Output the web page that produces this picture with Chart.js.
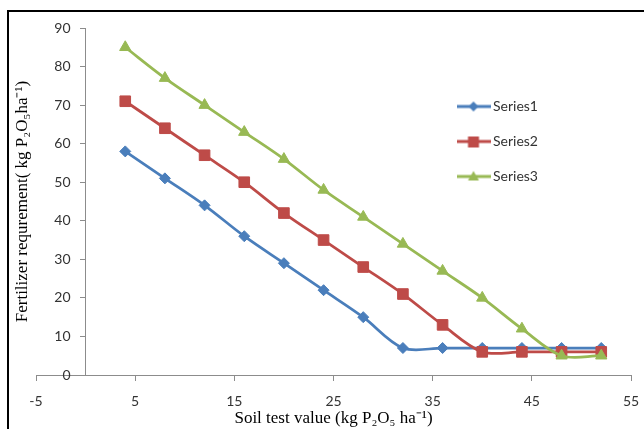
<!DOCTYPE html>
<html><head><meta charset="utf-8">
<script src="https://cdn.jsdelivr.net/npm/chart.js@4"></script>
<style>
html,body{margin:0;padding:0;background:#fff;overflow:hidden}
#wrap{position:relative;width:644px;height:429px;overflow:hidden}
#frame{position:absolute;left:7px;top:10px;width:700px;height:500px;border:2px solid #000;box-sizing:border-box;pointer-events:none}
canvas{position:absolute;left:0;top:0}
</style></head><body>
<div id="wrap"><canvas id="c" width="644" height="429"></canvas><div id="frame"></div></div>
<script>
const xValues = [4, 8, 12, 16, 20, 24, 28, 32, 36, 40, 44, 48, 52];
const series1 = [58, 51, 44, 36, 29, 22, 15, 7, 7, 7, 7, 7, 7];
const series2 = [71, 64, 57, 50, 42, 35, 28, 21, 13, 6, 6, 6, 6];
const series3 = [85, 77, 70, 63, 56, 48, 41, 34, 27, 20, 12, 5, 5];
const seriesNames = ['Series1', 'Series2', 'Series3'];
const xTickMin = -5, xTickMax = 55, xTickStep = 10;
const yTickMin = 0, yTickMax = 90, yTickStep = 10;
const xTitle = 'Soil test value (kg P\u2082O\u2085 ha\u207B\u00B9)';
const yTitle = 'Fertilizer requrement( kg P\u2082O\u2085ha\u207B\u00B9)';

const colors = ['#4A7EBB', '#BE4B48', '#98B954'];
const styles = ['rectRot', 'rect', 'triangle'];
const radii = [5.5, 7.5, 6.5];

function makeIcon(i) {
  const c = document.createElement('canvas');
  c.width = 34; c.height = 16;
  const g = c.getContext('2d');
  g.strokeStyle = colors[i]; g.fillStyle = colors[i]; g.lineWidth = 3;
  g.beginPath(); g.moveTo(0, 8); g.lineTo(34, 8); g.stroke();
  g.beginPath();
  if (i === 0) { g.moveTo(17, 3); g.lineTo(22, 8); g.lineTo(17, 13); g.lineTo(12, 8); }
  else if (i === 1) { g.rect(11.5, 3, 11, 11); }
  else { g.moveTo(17, 2.5); g.lineTo(22.5, 12); g.lineTo(11.5, 12); }
  g.closePath(); g.fill();
  return c;
}
const icons = [0, 1, 2].map(makeIcon);

const allSeries = [series1, series2, series3];
const datasets = allSeries.map((s, i) => ({
  label: seriesNames[i],
  data: xValues.map((x, j) => ({x: x, y: s[j]})),
  borderColor: colors[i],
  backgroundColor: colors[i],
  borderWidth: 2.75,
  pointStyle: styles[i],
  pointRadius: radii[i],
  pointBorderWidth: 1,
  pointBackgroundColor: colors[i],
  pointBorderColor: colors[i],
  tension: 0.33,
  order: 3 - i,
  clip: false
}));

const legendPos = {
  id: 'legendPos',
  afterLayout(chart) {
    const l = chart.legend;
    if (!l) return;
    const w = l.width, h = l.height;
    l.left = 440; l.top = 78.5; l.right = l.left + w; l.bottom = l.top + h;
  }
};

const tickFont = {family: 'Lato', size: 14};
const titleFont = {family: '"Liberation Serif", "Times New Roman", serif', size: 17};
const yLabelGap = 15;

new Chart(document.getElementById('c'), {
  type: 'line',
  data: {datasets},
  plugins: [legendPos],
  options: {
    responsive: false,
    animation: false,
    layout: {padding: {left: 8, right: 13, top: 28, bottom: 0}},
    plugins: {
      tooltip: {enabled: false},
      legend: {
        position: 'chartArea',
        align: 'start',
        labels: {
          usePointStyle: true,
          pointStyleWidth: 25,
          padding: 21,
          color: '#333',
          font: tickFont,
          sort: (a, b) => a.datasetIndex - b.datasetIndex,
          generateLabels(chart) {
            const items = Chart.defaults.plugins.legend.labels.generateLabels(chart);
            items.forEach(it => { it.pointStyle = icons[it.datasetIndex]; });
            return items;
          }
        }
      }
    },
    scales: {
      x: {
        type: 'linear',
        position: 'bottom',
        min: xTickMin, max: xTickMax,
        afterFit(scale) { scale.height = 54; scale.paddingRight = 0; scale.paddingLeft = 0; },
        ticks: {stepSize: xTickStep, color: '#333', font: tickFont, padding: 12, maxRotation: 0},
        grid: {drawOnChartArea: false, drawTicks: true, tickLength: 6, color: '#8c8c8c', lineWidth: 1},
        border: {display: true, color: '#8c8c8c', width: 1},
        title: {display: true, text: xTitle, color: '#000', font: titleFont, padding: {top: 0, bottom: 0}}
      },
      y: {
        type: 'linear',
        axis: 'y',
        position: {x: 0},
        min: yTickMin, max: yTickMax,
        afterUpdate(scale) {
          if (scale._gapPatched) return;
          const orig = scale._computeLabelItems;
          scale._computeLabelItems = function (ca) {
            const items = orig.call(this, ca);
            const ax = this.chart.scales.x.getPixelForValue(0);
            items.forEach(it => { it.options.translation[0] = ax - yLabelGap; it.options.textAlign = 'right'; });
            return items;
          };
          scale._gapPatched = true;
        },
        ticks: {stepSize: yTickStep, color: '#333', font: tickFont, padding: 10},
        grid: {drawOnChartArea: false, drawTicks: true, tickLength: 5, color: '#8c8c8c', lineWidth: 1},
        border: {display: true, color: '#8c8c8c', width: 1}
      },
      yTitle: {
        type: 'linear',
        axis: 'y',
        position: 'left',
        min: yTickMin, max: yTickMax,
        afterFit(scale) { scale.width = 28; },
        ticks: {display: false},
        grid: {display: false, drawTicks: false},
        border: {display: false},
        title: {display: true, text: yTitle, color: '#000', font: titleFont, padding: {top: 4, bottom: 4}}
      }
    }
  }
});
</script>
</body></html>
